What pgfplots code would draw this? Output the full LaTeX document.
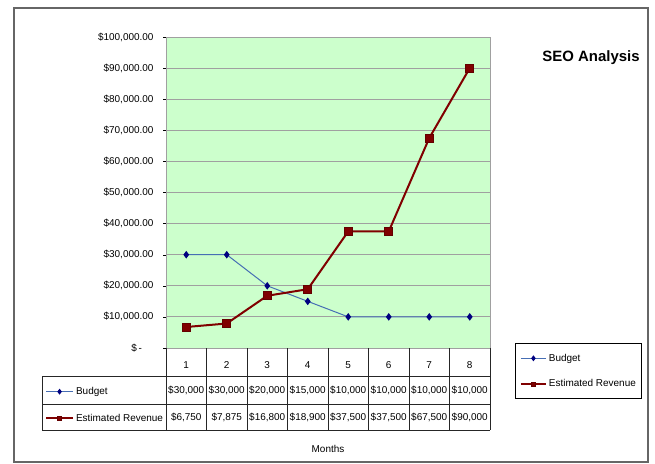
\documentclass[border=0pt]{standalone}
\usepackage{pgfplots}
\pgfplotsset{compat=1.18}
\usepackage{pgfplotstable}
\usepackage{fontspec}
\setmainfont{Liberation Sans}
\definecolor{bggreen}{RGB}{204,255,204}
\definecolor{budgetline}{RGB}{70,110,180}
\definecolor{budgetmark}{RGB}{0,0,128}
\definecolor{revred}{RGB}{128,0,0}
\definecolor{revdark}{RGB}{100,0,0}
\definecolor{gridgray}{RGB}{160,160,160}
\pgfplotstableread{
month budget revenue
1 30000 6750
2 30000 7875
3 20000 16800
4 15000 18900
5 10000 37500
6 10000 37500
7 10000 67500
8 10000 90000
}\data
\pgfplotsset{
  budgetstyle/.style={budgetline, line width=1bp, mark=diamond*, mark size=3bp,
    mark options={fill=budgetmark, draw=budgetmark, solid}},
  revstyle/.style={revred, line width=2bp, mark=square*, mark size=4bp,
    mark options={fill=revred, draw=revdark, line width=0.6bp, solid}},
}
\begin{document}
\begin{tikzpicture}[x=1bp,y=1bp,font=\fontsize{10}{12}\selectfont]
\useasboundingbox (0,0) rectangle (655,464);
\draw[line width=1.5bp, gray!80!black] (14,2) rectangle (648,456);
\begin{axis}[
 at={(166bp,116bp)}, anchor=south west,
 scale only axis, width=324bp, height=311bp,
 xmin=0.5, xmax=8.5, ymin=0, ymax=100000,
 clip=false, scaled y ticks=false,
 axis background/.style={fill=bggreen},
 axis line style={gridgray},
 xtick={1,...,8}, x tick style={draw=none},
 xticklabel style={anchor=center, yshift=-14bp},
 ytick={0,10000,...,100000},
 yticklabels={{\makebox[22bp][l]{\$\hspace{1.5bp}-}},{\$10,000.00},{\$20,000.00},{\$30,000.00},{\$40,000.00},{\$50,000.00},{\$60,000.00},{\$70,000.00},{\$80,000.00},{\$90,000.00},{\$100,000.00}},
 yticklabel style={xshift=-6bp},
 ytick pos=left, tick align=outside, major tick length=3bp,
 y tick style={black},
 ymajorgrids, grid style={gridgray, line width=0.8bp},
 /pgf/number format/assume math mode=true,
 tick label style={font=\fontsize{10}{12}\selectfont},
 legend style={at={(1.080,0.013)}, anchor=north west, draw=black, line width=1bp,
   font=\fontsize{10}{12}\selectfont, row sep=13bp, inner xsep=4bp, inner ysep=8bp, outer sep=0pt},
 legend cell align=left,
 legend image code/.code={\draw[mark repeat=2,mark phase=2,mark size=2.2bp] plot coordinates {(0bp,0bp) (12.5bp,0bp) (25bp,0bp)};},
]
\addplot[budgetstyle] table[x=month,y=budget] {\data};
\addlegendentry{Budget}
\addplot[revstyle] table[x=month,y=revenue] {\data};
\addlegendentry{Estimated Revenue}
\addplot[draw=none, forget plot, point meta=explicit,
  nodes near coords={\$\pgfmathprintnumber[fixed,precision=0,1000 sep={,}]{\pgfplotspointmeta}},
  nodes near coords style={anchor=center, yshift=-42bp, black, font=\fontsize{10}{12}\selectfont}]
  table[x=month, y expr=0, meta=budget] {\data};
\addplot[draw=none, forget plot, point meta=explicit,
  nodes near coords={\$\pgfmathprintnumber[fixed,precision=0,1000 sep={,}]{\pgfplotspointmeta}},
  nodes near coords style={anchor=center, yshift=-69bp, black, font=\fontsize{10}{12}\selectfont}]
  table[x=month, y expr=0, meta=revenue] {\data};
\end{axis}
\begin{axis}[
 at={(166bp,116bp)}, anchor=south west,
 scale only axis, width=324bp, height=311bp,
 hide axis, xmin=0, xmax=1, ymin=0, ymax=1,
 legend style={at={(-0.380,-0.113)}, anchor=north west, draw=none, fill=none,
   font=\fontsize{10}{12}\selectfont, row sep=14bp, inner sep=2bp},
 legend cell align=left,
 legend image code/.code={\draw[mark repeat=2,mark phase=2,mark size=2.2bp] plot coordinates {(0bp,0bp) (13.5bp,0bp) (27bp,0bp)};},
]
\addlegendimage{budgetstyle}
\addlegendentry{Budget}
\addlegendimage{revstyle}
\addlegendentry{Estimated Revenue}
\end{axis}
\draw[line width=0.9bp, black!85] (42,88) -- (490,88) (42,60) -- (490,60) (42,34) -- (490,34) (42,34) -- (42,88);
\foreach \k in {0,...,8} \draw[line width=0.9bp, black!85] ({166+40.5*\k},34) -- ({166+40.5*\k},116);
\node[font=\bfseries\fontsize{15}{18}\selectfont] at (591,406) {SEO Analysis};
\node at (328,15) {Months};
\end{tikzpicture}
\end{document}
